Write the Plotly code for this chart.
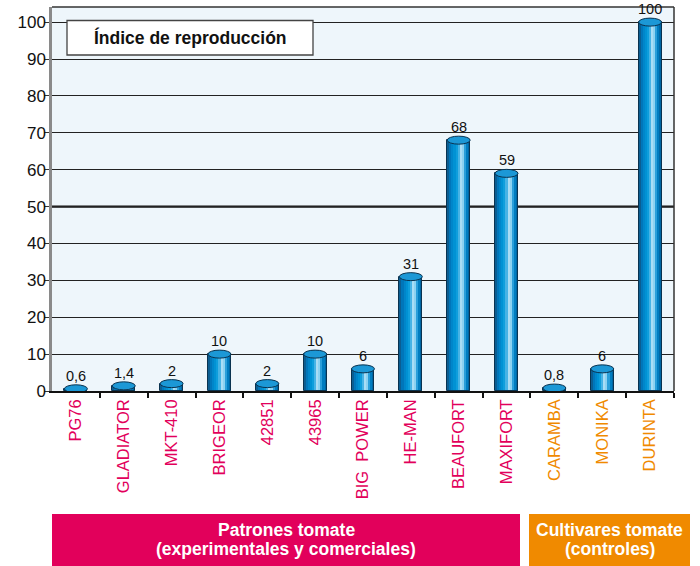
import plotly.graph_objects as go

# ---- data ----
categorias = ["PG76", "GLADIATOR", "MKT-410", "BRIGEOR", "42851", "43965",
              "BIG\u00a0\u00a0POWER", "HE-MAN", "BEAUFORT", "MAXIFORT",
              "CARAMBA", "MONIKA", "DURINTA"]
valores = [0.6, 1.4, 2, 10, 2, 10, 6, 31, 68, 59, 0.8, 6, 100]
grupos = ["patron"] * 10 + ["control"] * 3
titulo = "Índice de reproducción"
grupo_patrones = ["Patrones tomate", "(experimentales y comerciales)"]
grupo_controles = ["Cultivares tomate", "(controles)"]
linea_umbral = 50

# ---- style ----
MAGENTA = "#E2005B"
ORANGE = "#F08A00"
FONT = "Liberation Sans, Arial, sans-serif"
color_grupo = {"patron": MAGENTA, "control": ORANGE}
stripe_colors = ["#0B5E92", "#0076BA", "#0086CA", "#0092D4", "#0E9EDC",
                 "#46B3E5", "#A9DDF5", "#8CD2F1", "#2A9FDA", "#007DC0", "#0066A3"]
W, H = 700, 566
ML, MR, MT, MB = 52, 26, 7, 175
BAR_W = 0.48
Y_MAX = 104.1
PLOT_H = H - MT - MB
PLOT_W = W - ML - MR
CAP_DY = 4.0 * Y_MAX / PLOT_H

etiquetas = [f"{v:g}".replace(".", ",") for v in valores]
ticktext = [f'<span style="color:{color_grupo[g]}">{c}</span>'
            for c, g in zip(categorias, grupos)]
idx = list(range(len(categorias)))


def px_x(p):
    return (p - ML) / PLOT_W


def px_y(p):
    return (H - MB - p) / PLOT_H


fig = go.Figure()
n = len(stripe_colors)
for i, col in enumerate(stripe_colors):
    fig.add_trace(go.Bar(
        x=idx, y=valores, width=BAR_W / n, offset=-BAR_W / 2 + i * BAR_W / n,
        marker=dict(color=col, line=dict(width=0)), hoverinfo="skip",
        showlegend=False))
# outline
fig.add_trace(go.Bar(
    x=idx, y=valores, width=BAR_W, offset=-BAR_W / 2,
    marker=dict(color="rgba(0,0,0,0)", line=dict(color="#0A3350", width=1)),
    showlegend=False, hoverinfo="skip"))

shapes = []
# threshold line (thicker gridline)
shapes.append(dict(type="line", xref="paper", yref="y", x0=0, x1=1,
                   y0=linea_umbral, y1=linea_umbral,
                   line=dict(color="#111", width=2.2), layer="below"))
# cylinder caps
for i, v in zip(idx, valores):
    shapes.append(dict(type="circle", xref="x", yref="y",
                       x0=i - BAR_W / 2, x1=i + BAR_W / 2,
                       y0=v - CAP_DY, y1=v + CAP_DY,
                       fillcolor="#1C98D6", line=dict(color="#0A3350", width=1),
                       layer="above"))
# frame top & right
shapes.append(dict(type="line", xref="paper", yref="paper", x0=0, x1=1, y0=1, y1=1,
                   line=dict(color="#333", width=1.5)))
shapes.append(dict(type="line", xref="paper", yref="paper", x0=1, x1=1, y0=0, y1=1,
                   line=dict(color="#333", width=1.5)))
# title box
shapes.append(dict(type="rect", xref="paper", yref="paper",
                   x0=px_x(67), x1=px_x(313), y0=px_y(55), y1=px_y(20.5),
                   fillcolor="white", line=dict(color="#444", width=1.3)))
# group boxes
shapes.append(dict(type="rect", xref="paper", yref="paper",
                   x0=px_x(52), x1=px_x(520), y0=px_y(566), y1=px_y(514),
                   fillcolor=MAGENTA, line=dict(width=0)))
shapes.append(dict(type="rect", xref="paper", yref="paper",
                   x0=px_x(529), x1=px_x(690), y0=px_y(566), y1=px_y(514),
                   fillcolor=ORANGE, line=dict(width=0)))

annotations = []
for i, v, t in zip(idx, valores, etiquetas):
    annotations.append(dict(x=i, y=v, xref="x", yref="y", text=t, showarrow=False,
                            xanchor="center", yanchor="bottom", yshift=3,
                            font=dict(family=FONT, size=14.5, color="#111")))
annotations.append(dict(x=px_x(190), y=px_y(38), xref="paper", yref="paper",
                        text=f"<b>{titulo}</b>", showarrow=False,
                        xanchor="center", yanchor="middle",
                        font=dict(family=FONT, size=17.5, color="#111")))
for lines, cx in ((grupo_patrones, 286), (grupo_controles, 609.5)):
    for line, cy in zip(lines, (530, 549)):
        annotations.append(dict(x=px_x(cx), y=px_y(cy), xref="paper", yref="paper",
                                text=f"<b>{line}</b>", showarrow=False,
                                xanchor="center", yanchor="middle",
                                font=dict(family=FONT, size=17.5, color="white")))

fig.update_layout(
    width=W, height=H,
    margin=dict(l=ML, r=MR, t=MT, b=MB, autoexpand=False),
    paper_bgcolor="white", plot_bgcolor="#EEF6FB",
    barmode="overlay", bargap=0,
    shapes=shapes, annotations=annotations,
    font=dict(family=FONT, color="#111"),
    xaxis=dict(
        tickmode="array", tickvals=idx, ticktext=ticktext,
        range=[-0.5, len(categorias) - 0.5],
        tickangle=-90, tickfont=dict(size=16.5),
        showline=True, linecolor="#111", linewidth=1.5,
        ticks="", showgrid=False, zeroline=False, automargin=False,
    ),
    yaxis=dict(
        range=[0, Y_MAX], tickmode="linear", tick0=0, dtick=10,
        showgrid=True, gridcolor="#222", gridwidth=1,
        showline=True, linecolor="#8A8A8A", linewidth=2.5,
        ticks="outside", ticklen=5, tickcolor="#333", ticklabelstandoff=-5,
        tickfont=dict(size=17, color="#111"), zeroline=False, automargin=False,
    ),
)
# boundary tick marks on x axis
fig.update_xaxes(minor=dict(tickmode="array",
                            tickvals=[i + 0.5 for i in idx],
                            ticks="outside", ticklen=5, tickcolor="#111", tickwidth=1.5))

fig.write_html("out.html", config={"displayModeBar": False},
               post_script="document.body.style.margin='0';document.body.style.padding='0';")
